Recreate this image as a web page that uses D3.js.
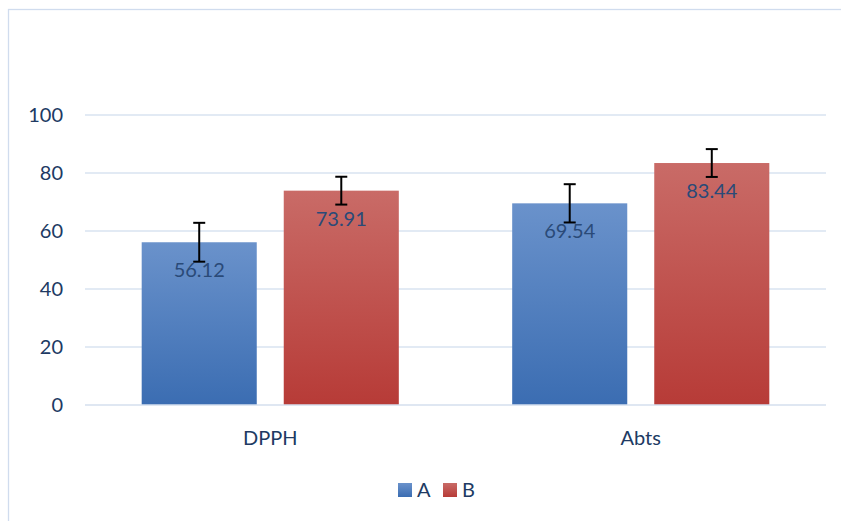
<!DOCTYPE html>
<html><head><meta charset="utf-8">
<script src="https://cdn.jsdelivr.net/npm/d3@7"></script>
<style>body{margin:0;background:#fff}svg{display:block}text{font-family:Lato,"Open Sans",sans-serif}</style>
</head><body>
<svg id="c" width="841" height="521"></svg>
<script>
const categories = ["DPPH", "Abts"];
const seriesNames = ["A", "B"];
const valuesA = [56.12, 69.54];
const valuesB = [73.91, 83.44];
const errorsA = [6.7, 6.6];
const errorsB = [4.8, 4.8];
const yTicks = [0, 20, 40, 60, 80, 100];

(function () {
const svg = d3.select("#c");
const W = 841, H = 521;
const pL = 85, pR = 826, pT = 115, pB = 405;

// border
svg.append("rect").attr("x", 8.5).attr("y", 9.5).attr("width", W).attr("height", H)
  .attr("fill", "none").attr("stroke", "#D0DCEE").attr("stroke-width", 1.3);

const defs = svg.append("defs");
const grads = [["gA", "#6A92CB", "#3B6DB2"], ["gB", "#C96B67", "#B73B37"]];
grads.forEach(([id, c1, c2]) => {
  const g = defs.append("linearGradient").attr("id", id).attr("x1", 0).attr("y1", 0).attr("x2", 0).attr("y2", 1);
  g.append("stop").attr("offset", "0%").attr("stop-color", c1);
  g.append("stop").attr("offset", "100%").attr("stop-color", c2);
});

const y = d3.scaleLinear().domain([0, 100]).range([pB, pT]);
const x0 = d3.scaleBand().domain(categories).range([pL, pR]).paddingInner(0).paddingOuter(0);
const x1 = d3.scaleBand().domain(seriesNames).range([x0.bandwidth() * 0.153, x0.bandwidth() * 0.847]).paddingInner(0.19);

// gridlines
svg.append("g").selectAll("line").data(yTicks.filter(d => d > 0)).join("line")
  .attr("x1", pL).attr("x2", pR).attr("y1", d => y(d)).attr("y2", d => y(d))
  .attr("stroke", "#D9E3F1").attr("stroke-width", 1.5);

// y labels
svg.append("g").selectAll("text").data(yTicks).join("text")
  .attr("x", 63).attr("y", d => y(d)).attr("dy", "0.36em").attr("text-anchor", "end")
  .attr("font-size", 20).attr("fill", "#203A63").text(d => d);

const data = categories.map((c, i) => ({
  cat: c,
  bars: [
    { s: "A", v: valuesA[i], e: errorsA[i], fill: "url(#gA)" },
    { s: "B", v: valuesB[i], e: errorsB[i], fill: "url(#gB)" }
  ]
}));

const groups = svg.append("g").selectAll("g").data(data).join("g")
  .attr("transform", d => `translate(${x0(d.cat)},0)`);

groups.selectAll("rect").data(d => d.bars).join("rect")
  .attr("x", d => x1(d.s)).attr("width", x1.bandwidth())
  .attr("y", d => y(d.v)).attr("height", d => y(0) - y(d.v))
  .attr("fill", d => d.fill);

// data labels
groups.selectAll("text.lbl").data(d => d.bars).join("text").attr("class", "lbl")
  .attr("x", d => x1(d.s) + x1.bandwidth() / 2).attr("y", d => y(d.v) + 35)
  .attr("text-anchor", "middle").attr("font-size", 20).attr("fill", "#2A4A78")
  .text(d => d.v.toFixed(2));

// error bars
const eb = groups.selectAll("g.eb").data(d => d.bars).join("g").attr("class", "eb")
  .attr("stroke", "#000").attr("stroke-width", 2);
eb.append("line")
  .attr("x1", d => x1(d.s) + x1.bandwidth() / 2).attr("x2", d => x1(d.s) + x1.bandwidth() / 2)
  .attr("y1", d => y(d.v + d.e)).attr("y2", d => y(d.v - d.e));
eb.append("line")
  .attr("x1", d => x1(d.s) + x1.bandwidth() / 2 - 6).attr("x2", d => x1(d.s) + x1.bandwidth() / 2 + 6)
  .attr("y1", d => y(d.v + d.e)).attr("y2", d => y(d.v + d.e));
eb.append("line")
  .attr("x1", d => x1(d.s) + x1.bandwidth() / 2 - 6).attr("x2", d => x1(d.s) + x1.bandwidth() / 2 + 6)
  .attr("y1", d => y(d.v - d.e)).attr("y2", d => y(d.v - d.e));

// x axis line
svg.append("line").attr("x1", pL).attr("x2", pR).attr("y1", y(0)).attr("y2", y(0))
  .attr("stroke", "#D5DFEE").attr("stroke-width", 1.5);

// category labels
svg.append("g").selectAll("text").data(categories).join("text")
  .attr("x", d => x0(d) + x0.bandwidth() / 2).attr("y", 445)
  .attr("text-anchor", "middle").attr("font-size", 20).attr("fill", "#203A63").text(d => d);

// legend
const legFill = ["url(#gA)", "url(#gB)"];
const leg = svg.append("g").selectAll("g").data(seriesNames).join("g")
  .attr("transform", (d, i) => `translate(${398 + i * 45},0)`);
leg.append("rect").attr("x", 0).attr("y", 483).attr("width", 14).attr("height", 14)
  .attr("fill", (d, i) => legFill[i]);
leg.append("text").attr("x", 19).attr("y", 497).attr("font-size", 20).attr("fill", "#203A63").text(d => d);
})();
</script>
</body></html>
